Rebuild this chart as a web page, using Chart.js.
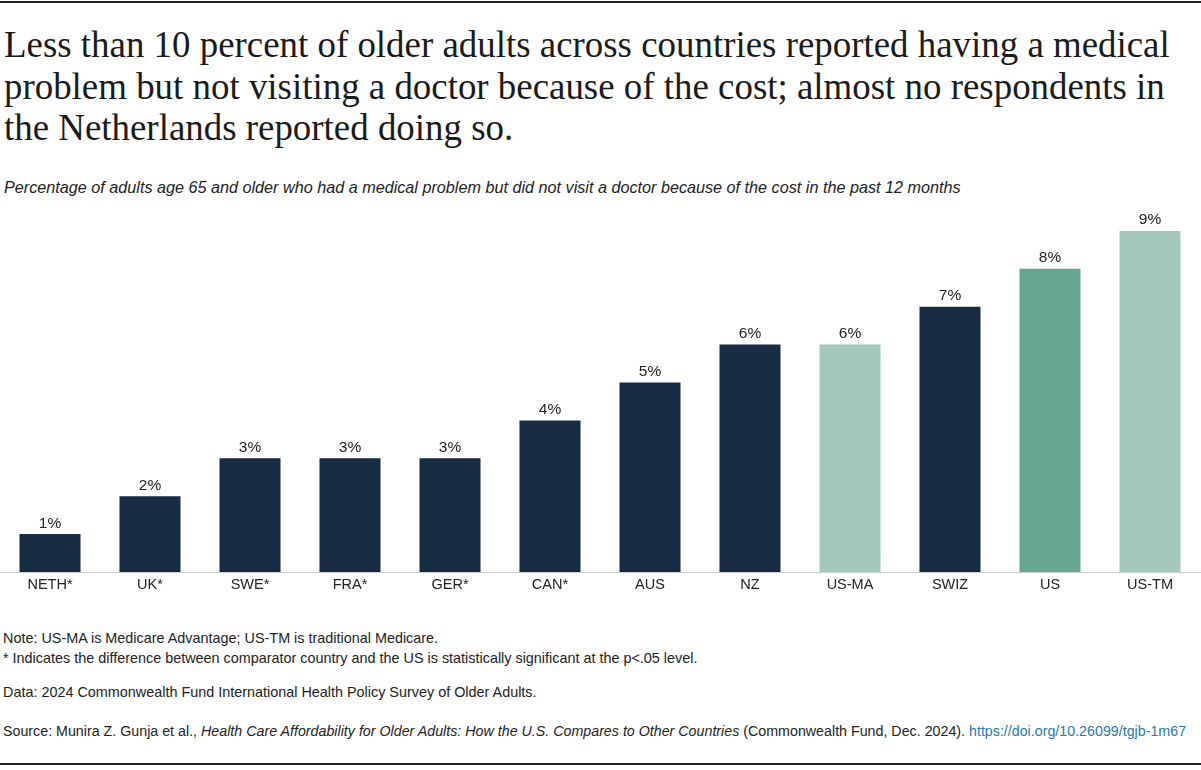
<!DOCTYPE html>
<html>
<head>
<meta charset="utf-8">
<script src="https://cdn.jsdelivr.net/npm/chart.js@4.4.1/dist/chart.umd.min.js"></script>
<style>
  html,body{margin:0;padding:0;background:#fff;}
  body{width:1201px;height:770px;position:relative;overflow:hidden;font-family:"Liberation Sans",Arial,sans-serif;color:#222;}
  .rule{position:absolute;left:0;width:1201px;height:2px;background:#222;}
  #title{position:absolute;left:4px;top:24px;font-family:"Liberation Serif","Times New Roman",serif;font-size:36.9px;line-height:41.5px;color:#1a1a1a;letter-spacing:0;white-space:nowrap;}
  #subtitle{position:absolute;left:4px;top:178px;font-size:16.2px;font-style:italic;color:#222;white-space:nowrap;}
  #wrap{position:absolute;left:0;top:0;width:1201px;height:620px;}
  .foot{position:absolute;left:3px;font-size:14.4px;color:#222;white-space:nowrap;}
  .foot a{color:#2a78a8;text-decoration:none;}
</style>
</head>
<body>
<div class="rule" style="top:1px"></div>
<div id="title">Less than 10 percent of older adults across countries reported having a medical<br>problem but not visiting a doctor because of the cost; almost no respondents in<br>the Netherlands reported doing so.</div>
<div id="subtitle">Percentage of adults age 65 and older who had a medical problem but did not visit a doctor because of the cost in the past 12 months</div>
<div id="wrap"><canvas id="c"></canvas></div>
<div class="foot" style="top:630px">Note: US-MA is Medicare Advantage; US-TM is traditional Medicare.</div>
<div class="foot" style="top:650px">* Indicates the difference between comparator country and the US is statistically significant at the p&lt;.05 level.</div>
<div class="foot" style="top:684px">Data: 2024 Commonwealth Fund International Health Policy Survey of Older Adults.</div>
<div class="foot" style="top:723px;font-size:14.25px">Source: Munira Z. Gunja et al., <i>Health Care Affordability for Older Adults: How the U.S. Compares to Other Countries</i> (Commonwealth Fund, Dec. 2024). <a href="#">https://doi.org/10.26099/tgjb-1m67</a></div>
<div class="rule" style="top:763px"></div>
<script>
const categories = ["NETH*", "UK*", "SWE*", "FRA*", "GER*", "CAN*", "AUS", "NZ", "US-MA", "SWIZ", "US", "US-TM"];
const values = [1, 2, 3, 3, 3, 4, 5, 6, 6, 7, 8, 9];
const groups = ["intl", "intl", "intl", "intl", "intl", "intl", "intl", "intl", "usPlan", "intl", "us", "usPlan"];
const yTicks = [0, 10];

const groupColors = { intl: "#172B42", us: "#66A692", usPlan: "#A4C9BC" };

const labelPlugin = {
  id: "barLabels",
  afterDatasetsDraw(chart) {
    const ctx = chart.ctx;
    const meta = chart.getDatasetMeta(0);
    ctx.save();
    ctx.font = '15.5px "Liberation Sans", Arial, sans-serif';
    ctx.fillStyle = "#222";
    ctx.textAlign = "center";
    ctx.textBaseline = "bottom";
    meta.data.forEach((bar, i) => {
      ctx.fillText(values[i] + "%", bar.x, bar.y - 3);
    });
    ctx.restore();
  }
};

new Chart(document.getElementById("c"), {
  type: "bar",
  data: {
    labels: categories,
    datasets: [{
      data: values,
      backgroundColor: groups.map(g => groupColors[g]),
      borderWidth: 0,
      barPercentage: 0.61,
      categoryPercentage: 1
    }]
  },
  options: {
    responsive: true,
    maintainAspectRatio: false,
    animation: false,
    layout: { padding: { top: 193, bottom: 18, left: 0, right: 1 } },
    plugins: { legend: { display: false }, tooltip: { enabled: false } },
    scales: {
      x: {
        grid: { display: false, drawTicks: false },
        border: { display: true, color: "#cccccc", width: 1 },
        ticks: { color: "#222", font: { family: '"Liberation Sans", Arial, sans-serif', size: 14.5 }, padding: 4, maxRotation: 0, autoSkip: false },
        afterFit(s) { s.height = 30; }
      },
      y: {
        display: false,
        min: yTicks[0],
        max: yTicks[1]
      }
    }
  },
  plugins: [labelPlugin]
});
</script>
</body>
</html>
